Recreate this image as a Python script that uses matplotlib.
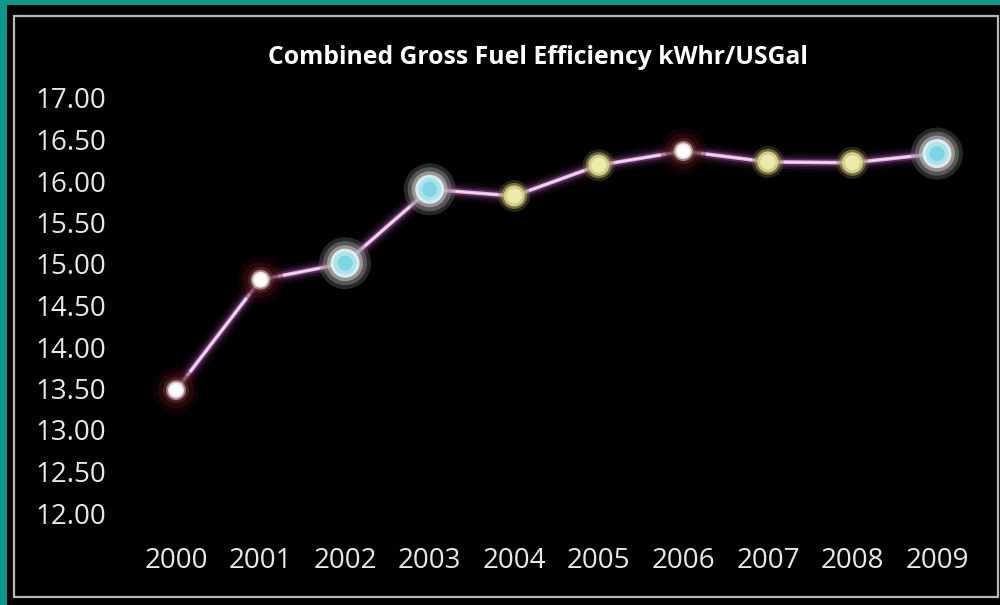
import matplotlib
matplotlib.use("Agg")
import matplotlib.pyplot as plt
from matplotlib.patches import Rectangle
import numpy as np

years = ["2000", "2001", "2002", "2003", "2004", "2005", "2006", "2007", "2008", "2009"]
efficiency = [13.48, 14.81, 15.01, 15.90, 15.82, 16.19, 16.36, 16.23, 16.22, 16.33]
y_ticks = [12.00, 12.50, 13.00, 13.50, 14.00, 14.50, 15.00, 15.50, 16.00, 16.50, 17.00]
title = "Combined Gross Fuel Efficiency kWhr/USGal"
marker_kind = ["white", "white", "cyan", "cyan", "yellow", "yellow", "white", "yellow", "yellow", "cyan"]

W, H = 1000, 605
fig = plt.figure(figsize=(W / 100, H / 100), dpi=100)
fig.patch.set_facecolor("#0f978d")

def px_rect(x0, y0, x1, y1, **kw):
    r = Rectangle((x0 / W, 1 - y1 / H), (x1 - x0) / W, (y1 - y0) / H,
                  transform=fig.transFigure, **kw)
    fig.patches.append(r)

px_rect(7, 5, 1000, 605, facecolor="black", edgecolor="none", zorder=0)
px_rect(14, 16, 998, 597, facecolor="none", edgecolor="#b8b8b8", linewidth=1.6, zorder=1)

ax_l, ax_r, ax_t, ax_b = 120, 980, 80, 530
ax = fig.add_axes([ax_l / W, 1 - ax_b / H, (ax_r - ax_l) / W, (ax_b - ax_t) / H])
ax.set_facecolor("none")
ax.set_zorder(5)

x = np.arange(len(years))
sx = (937 - 176) / 9
ax.set_xlim((ax_l - 176) / sx, (ax_r - 176) / sx)
sy = (513 - 98) / 5
ax.set_ylim(12 - (ax_b - 513) / sy, 17 + (98 - ax_t) / sy)

# glowing line
for lw, a in [(14, 0.06), (10, 0.08), (7, 0.12), (5, 0.25)]:
    ax.plot(x, efficiency, color="#d070d0", lw=lw, alpha=a, solid_capstyle="round", zorder=2)
ax.plot(x, efficiency, color="#e6b4e6", lw=2.6, zorder=3)
ax.plot(x, efficiency, color="#f6dcf6", lw=1.0, zorder=3)

def pt(d_px):
    return (d_px / (100 / 72)) ** 2

styles = {
    "white": [(46, "#300606", 0.35), (36, "#4a1010", 0.4), (26, "#7a4040", 0.4),
              (20, "#e8e0e0", 0.5), (16, "#ffffff", 0.8), (12, "#ffffff", 1.0)],
    "cyan": [(52, "#707070", 0.35), (44, "#909090", 0.45), (36, "#c0c0c0", 0.6),
             (29, "#e8f4f4", 0.9), (23, "#a8e4ec", 1.0), (15, "#80d4e4", 1.0)],
    "yellow": [(32, "#706838", 0.35), (26, "#a8a060", 0.6), (21, "#d8d890", 0.9),
               (15, "#ececa8", 1.0)],
}
for xi, yi, kind in zip(x, efficiency, marker_kind):
    for d, c, a in styles[kind]:
        ax.scatter([xi], [yi], s=pt(d), color=c, alpha=a, edgecolors="none", zorder=4)

ax.set_xticks(x)
ax.set_xticklabels(years)
ax.set_yticks(y_ticks)
ax.set_yticklabels([f"{v:.2f}" for v in y_ticks])
for s in ax.spines.values():
    s.set_visible(False)
ax.tick_params(length=0, colors="#e8e8e8", labelsize=20)
ax.tick_params(axis="x", pad=12)
ax.tick_params(axis="y", pad=10)
for lab in ax.get_xticklabels() + ax.get_yticklabels():
    lab.set_family("Open Sans")
    lab.set_color("#e8e8e8")

fig.text(538 / W, 1 - 57 / H, title, ha="center", va="center", color="white",
         fontsize=17.8, fontweight="bold", family="Open Sans", zorder=6)

fig.savefig("out.png", dpi=100, facecolor=fig.get_facecolor())
